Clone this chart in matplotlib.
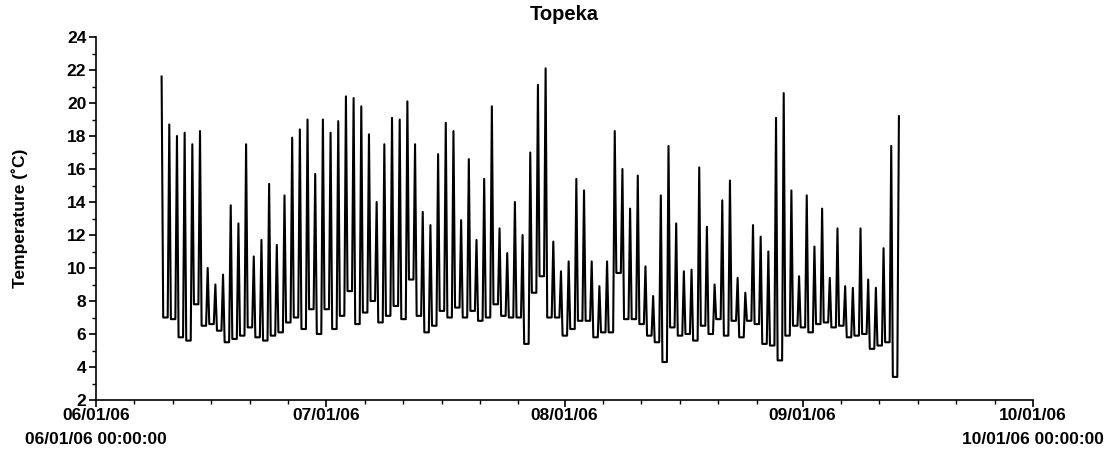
import matplotlib
matplotlib.use("Agg")
import matplotlib.pyplot as plt
import matplotlib.dates as mdates
from matplotlib.ticker import MultipleLocator, FuncFormatter
import pandas as pd

title = "Topeka"
ylabel = "Temperature (˚C)"
x_start = "2006-06-01"
x_end = "2006-10-01"
first_peak = "2006-06-09 13:00"

# daily maxima (one per day, starting at first_peak)
daily_max = [21.6, 18.7, 18.0, 18.2, 17.5, 18.3, 10.0, 9.0, 9.6, 13.8,
             12.7, 17.5, 10.7, 11.7, 15.1, 11.4, 14.4, 17.9, 18.4, 19.0,
             15.7, 19.0, 18.2, 18.9, 20.4, 20.3, 19.8, 18.1, 14.0, 17.5,
             19.1, 19.0, 20.1, 17.5, 13.4, 12.6, 16.9, 18.8, 18.3, 12.9,
             16.6, 11.7, 15.4, 19.8, 12.4, 10.9, 14.0, 12.0, 17.0, 21.1,
             22.1, 11.6, 9.8, 10.4, 15.4, 14.7, 10.4, 8.9, 10.4, 18.3,
             16.0, 13.6, 15.6, 10.1, 8.3, 14.4, 17.4, 12.7, 9.8, 9.9,
             16.1, 12.5, 9.0, 14.1, 15.3, 9.4, 8.5, 12.6, 11.9, 11.0,
             19.1, 20.6, 14.7, 9.5, 14.4, 11.3, 13.6, 9.4, 12.4, 8.9,
             8.8, 12.4, 9.3, 8.8, 11.2, 17.4, 19.2]
# daily minima (night-time level following each maximum)
daily_min = [7.0, 6.9, 5.8, 5.6, 7.8, 6.5, 6.6, 6.2, 5.5, 5.7,
             5.9, 6.4, 5.8, 5.6, 5.9, 6.1, 6.7, 7.0, 6.3, 7.5,
             6.0, 7.5, 6.3, 7.1, 8.6, 6.6, 7.3, 8.0, 6.7, 7.1,
             7.7, 6.9, 9.3, 7.1, 6.1, 6.5, 7.4, 7.0, 7.6, 7.0,
             7.4, 6.8, 7.0, 7.8, 7.1, 7.0, 7.0, 5.4, 8.5, 9.5,
             7.0, 7.0, 5.9, 6.3, 6.8, 6.8, 5.8, 6.1, 6.1, 9.7,
             6.9, 6.9, 6.6, 5.9, 5.5, 4.3, 6.4, 5.9, 6.0, 5.6,
             6.5, 6.0, 6.9, 5.9, 6.8, 5.8, 6.8, 6.6, 5.4, 5.3,
             4.4, 5.9, 6.5, 6.4, 6.1, 6.6, 6.7, 6.4, 6.5, 5.8,
             5.9, 6.0, 5.1, 5.3, 5.5, 3.4]

t0 = pd.Timestamp(first_peak)
times, temps = [], []
for k, mx in enumerate(daily_max):
    times.append(t0 + pd.Timedelta(days=k))
    temps.append(mx)
    if k < len(daily_min):
        times.append(t0 + pd.Timedelta(days=k, hours=5))
        temps.append(daily_min[k])
        times.append(t0 + pd.Timedelta(days=k + 1, hours=-5))
        temps.append(daily_min[k])

plt.rcParams['font.family'] = ['Liberation Sans', 'DejaVu Sans']
plt.rcParams['font.weight'] = 'bold'

fig = plt.figure(figsize=(11.11, 4.53), dpi=100)
ax = fig.add_axes([96/1111, 53/453, (1033-96)/1111, (400-37)/453])

ax.plot(times, temps, color='black', lw=1.5)

ax.set_xlim(pd.Timestamp(x_start), pd.Timestamp(x_end))
ax.set_ylim(2, 24)
ax.yaxis.set_major_locator(MultipleLocator(2))
ax.yaxis.set_minor_locator(MultipleLocator(1))

ax.xaxis.set_major_locator(mdates.MonthLocator())
ax.xaxis.set_minor_locator(mdates.DayLocator(bymonthday=[6, 11, 16, 21, 26]))

xs0 = mdates.date2num(pd.Timestamp(x_start))
xs1 = mdates.date2num(pd.Timestamp(x_end))

def fmt(x, pos):
    d = mdates.num2date(x)
    s = d.strftime("%m/%d/%y")
    if abs(x - xs0) < 0.5 or abs(x - xs1) < 0.5:
        s += "\n" + d.strftime("%m/%d/%y %H:%M:%S")
    return s

ax.xaxis.set_major_formatter(FuncFormatter(fmt))

for s in ['top', 'right']:
    ax.spines[s].set_visible(False)
for s in ['left', 'bottom']:
    ax.spines[s].set_linewidth(1.2)

ax.tick_params(axis='both', which='major', length=5, width=1.2, direction='out',
               labelsize=12.5)
ax.tick_params(axis='x', which='major', pad=1)
ax.tick_params(axis='y', which='major', pad=2)
ax.tick_params(axis='both', which='minor', length=3, width=1, direction='out')
fig.canvas.draw()
for lab in ax.get_xticklabels():
    lab.set_fontweight('bold')
    lab.set_linespacing(1.75)
for lab in ax.get_yticklabels():
    lab.set_fontweight('bold')

ax.set_title(title, fontsize=14.5, fontweight='bold', pad=12.5)
ax.set_ylabel(ylabel, fontsize=12.5, fontweight='bold', labelpad=28)

fig.savefig("out.png", dpi=100)
